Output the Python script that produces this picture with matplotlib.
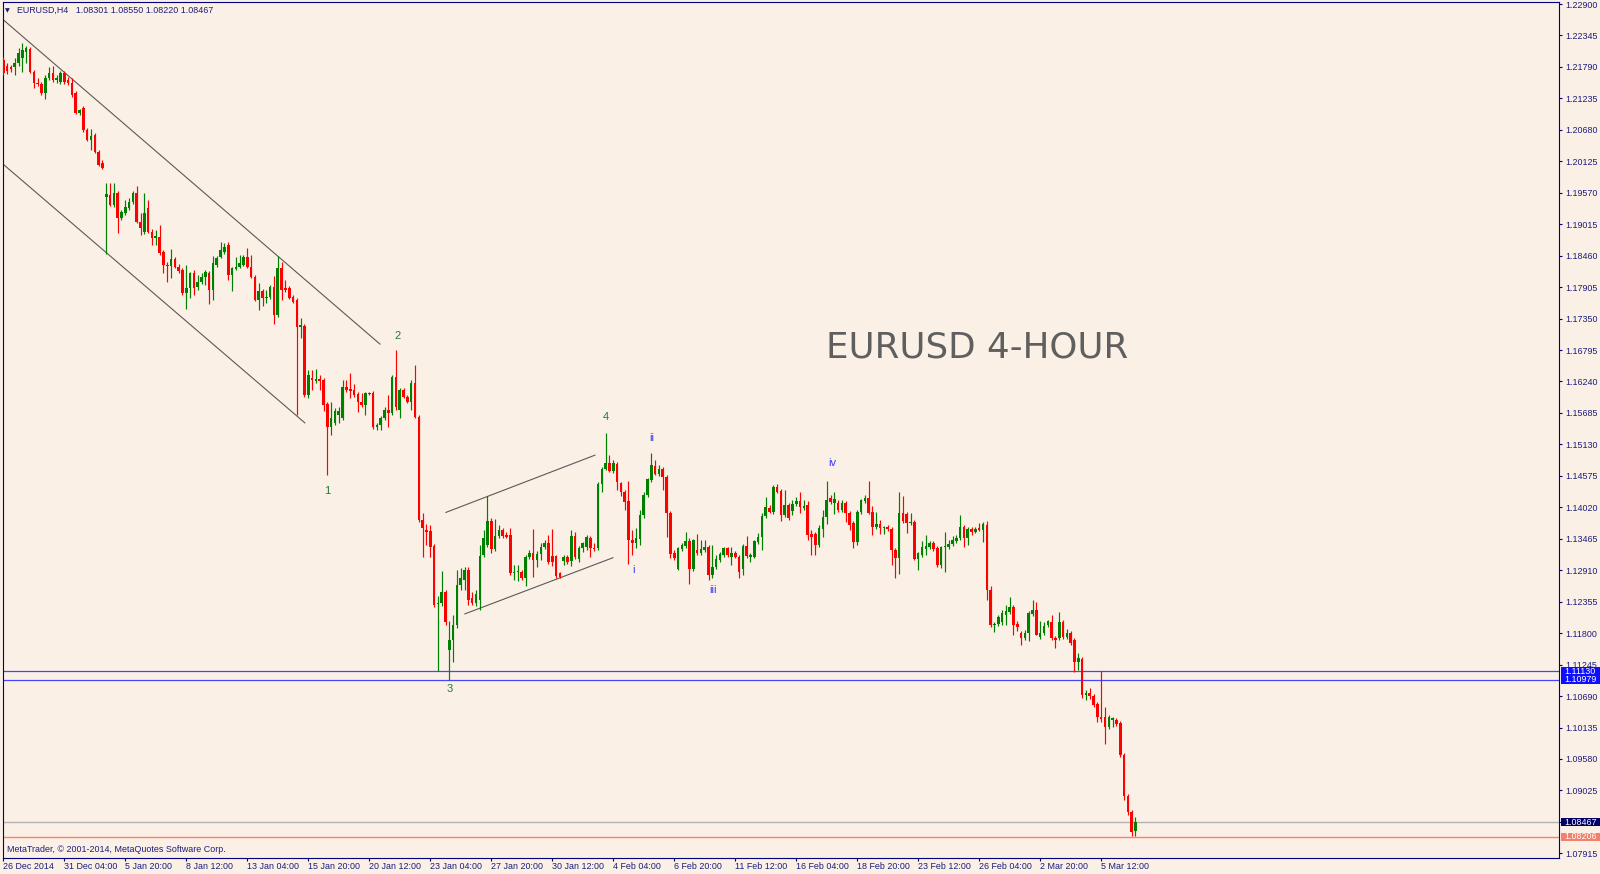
import matplotlib
matplotlib.use("Agg")
import matplotlib.pyplot as plt
from matplotlib import transforms
from matplotlib.patches import Rectangle

plt.rcParams['font.family'] = ['Liberation Sans', 'DejaVu Sans']

# ---------------- data (EURUSD H4 candles) ----------------
opens = [
 1.2191,1.2181,1.2179,1.2179,1.2186,1.2195,1.2205,1.2211,1.2170,1.2151,
 1.2149,1.2133,1.2160,1.2168,1.2156,1.2152,1.2168,1.2156,1.2151,1.2133,
 1.2098,1.2107,1.2068,1.2050,1.2059,1.2029,1.2010,1.1950,1.1953,1.1935,
 1.1957,1.1913,1.1921,1.1930,1.1941,1.1957,1.1905,1.1888,1.1930,1.1888,
 1.1877,1.1879,1.1852,1.1830,1.1828,1.1840,1.1826,1.1821,1.1780,1.1789,
 1.1815,1.1791,1.1800,1.1808,1.1815,1.1785,1.1830,1.1844,1.1852,1.1865,
 1.1812,1.1822,1.1826,1.1830,1.1844,1.1826,1.1808,1.1768,1.1784,1.1771,
 1.1773,1.1791,1.1741,1.1824,1.1789,1.1789,1.1773,1.1768,1.1720,1.1722,
 1.1600,1.1630,1.1625,1.1628,1.1627,1.1584,1.1544,1.1551,1.1565,1.1560,
 1.1614,1.1611,1.1609,1.1602,1.1588,1.1583,1.1604,1.1604,1.1544,1.1547,
 1.1560,1.1574,1.1568,1.1632,1.1574,1.1609,1.1597,1.1588,1.1621,1.1561,
 1.1380,1.1362,1.1360,1.1334,1.1231,1.1233,1.1253,1.1150,1.1168,1.1194,
 1.1265,1.1274,1.1291,1.1242,1.1233,1.1239,1.1318,1.1336,1.1378,1.1328,
 1.1351,1.1362,1.1353,1.1353,1.1286,1.1288,1.1288,1.1277,1.1314,1.1321,
 1.1309,1.1320,1.1332,1.1339,1.1316,1.1316,1.1286,1.1307,1.1314,1.1307,
 1.1351,1.1311,1.1330,1.1332,1.1348,1.1330,1.1330,1.1443,1.1470,1.1480,
 1.1466,1.1478,1.1445,1.1429,1.1413,1.1344,1.1339,1.1346,1.1388,1.1424,
 1.1450,1.1475,1.1461,1.1470,1.1456,1.1392,1.1321,1.1293,1.1328,1.1334,
 1.1343,1.1293,1.1327,1.1321,1.1327,1.1332,1.1283,1.1297,1.1309,1.1318,
 1.1330,1.1314,1.1321,1.1314,1.1293,1.1334,1.1314,1.1314,1.1341,1.1350,
 1.1387,1.1401,1.1394,1.1438,1.1431,1.1388,1.1406,1.1396,1.1408,1.1413,
 1.1401,1.1406,1.1355,1.1355,1.1336,1.1364,1.1385,1.1419,1.1410,1.1410,
 1.1397,1.1410,1.1392,1.1374,1.1341,1.1394,1.1413,1.1419,1.1394,1.1367,
 1.1373,1.1366,1.1367,1.1364,1.1327,1.1313,1.1392,1.1390,1.1374,1.1376,
 1.1311,1.1318,1.1328,1.1332,1.1339,1.1330,1.1300,1.1332,1.1332,1.1337,
 1.1343,1.1348,1.1367,1.1348,1.1364,1.1359,1.1366,1.1362,1.1371,1.1256,
 1.1194,1.1196,1.1200,1.1212,1.1217,1.1226,1.1196,1.1180,1.1171,1.1180,
 1.1214,1.1221,1.1173,1.1180,1.1194,1.1200,1.1171,1.1171,1.1200,1.1173,
 1.1180,1.1168,1.1129,1.1134,1.1071,1.1074,1.1069,1.1055,1.1032,1.1032,
 1.1014,1.1027,1.1027,1.1021,1.0965,1.0893,1.0865,1.08301]
highs = [
 1.2196,1.2186,1.2182,1.2195,1.2212,1.2221,1.2216,1.2214,1.2174,1.2160,
 1.2152,1.2165,1.2179,1.2181,1.2165,1.2172,1.2172,1.2161,1.2160,1.2137,
 1.2105,1.2110,1.2071,1.2070,1.2062,1.2032,1.2015,1.1974,1.1974,1.1974,
 1.1960,1.1927,1.1944,1.1948,1.1960,1.1969,1.1921,1.1957,1.1944,1.1893,
 1.1891,1.1900,1.1856,1.1835,1.1858,1.1844,1.1831,1.1824,1.1830,1.1817,
 1.1821,1.1812,1.1815,1.1821,1.1819,1.1845,1.1845,1.1870,1.1868,1.1870,
 1.1826,1.1844,1.1847,1.1847,1.1860,1.1847,1.1812,1.1798,1.1787,1.1785,
 1.1794,1.1810,1.1845,1.1835,1.1803,1.1793,1.1777,1.1771,1.1736,1.1725,
 1.1644,1.1644,1.1646,1.1635,1.1630,1.1588,1.1588,1.1577,1.1579,1.1627,
 1.1627,1.1639,1.1620,1.1605,1.1604,1.1606,1.1605,1.1607,1.1551,1.1563,
 1.1579,1.1600,1.1635,1.1680,1.1613,1.1613,1.1600,1.1627,1.1653,1.1565,
 1.1392,1.1373,1.1371,1.1337,1.1246,1.1290,1.1256,1.1201,1.1212,1.1291,
 1.1295,1.1297,1.1297,1.1253,1.1256,1.1336,1.1362,1.1422,1.1383,1.1381,
 1.1371,1.1366,1.1359,1.1366,1.1300,1.1300,1.1291,1.1318,1.1327,1.1364,
 1.1325,1.1339,1.1344,1.1353,1.1364,1.1318,1.1288,1.1318,1.1318,1.1362,
 1.1359,1.1333,1.1341,1.1353,1.1351,1.1339,1.1447,1.1473,1.1533,1.1494,
 1.1486,1.1482,1.1447,1.1433,1.1448,1.1362,1.1366,1.1397,1.1429,1.1454,
 1.1498,1.1486,1.1477,1.1473,1.1459,1.1396,1.1327,1.1332,1.1339,1.1359,
 1.1348,1.1346,1.1355,1.1344,1.1344,1.1336,1.1336,1.1318,1.1323,1.1332,
 1.1332,1.1332,1.1325,1.1318,1.1337,1.1351,1.1321,1.1344,1.1357,1.1392,
 1.1420,1.1406,1.1441,1.1443,1.1434,1.1433,1.1410,1.1415,1.1420,1.1429,
 1.1415,1.1413,1.1362,1.1359,1.1371,1.1397,1.1448,1.1424,1.1429,1.1415,
 1.1415,1.1413,1.1396,1.1378,1.1397,1.1417,1.1424,1.1448,1.1404,1.1394,
 1.1380,1.1369,1.1371,1.1367,1.1330,1.1429,1.1422,1.1394,1.1392,1.1380,
 1.1323,1.1343,1.1353,1.1343,1.1343,1.1334,1.1334,1.1359,1.1344,1.1351,
 1.1353,1.1388,1.1371,1.1367,1.1367,1.1367,1.1374,1.1376,1.1378,1.1263,
 1.1200,1.1212,1.1221,1.1230,1.1244,1.1230,1.1201,1.1184,1.1186,1.1219,
 1.1239,1.1235,1.1201,1.1200,1.1203,1.1212,1.1175,1.1217,1.1203,1.1187,
 1.1184,1.1171,1.1145,1.1138,1.1080,1.1083,1.1073,1.1058,1.1113,1.1050,
 1.1036,1.1032,1.1030,1.1025,1.0968,1.0896,1.0868,1.08550]
lows = [
 1.2165,1.2167,1.2170,1.2165,1.2181,1.2170,1.2186,1.2168,1.2142,1.2145,
 1.2130,1.2122,1.2156,1.2152,1.2151,1.2149,1.2149,1.2147,1.2126,1.2096,
 1.2094,1.2064,1.2048,1.2032,1.2027,1.2004,1.1999,1.1849,1.1934,1.1932,
 1.1886,1.1909,1.1918,1.1927,1.1937,1.1904,1.1883,1.1884,1.1886,1.1865,
 1.1865,1.1847,1.1815,1.1800,1.1807,1.1824,1.1815,1.1777,1.1752,1.1771,
 1.1777,1.1785,1.1796,1.1794,1.1761,1.1768,1.1826,1.1842,1.1849,1.1803,
 1.1784,1.1821,1.1824,1.1828,1.1824,1.1807,1.1766,1.1750,1.1757,1.1763,
 1.1770,1.1725,1.1738,1.1768,1.1782,1.1770,1.1763,1.1565,1.1701,1.1597,
 1.1595,1.1609,1.1621,1.1609,1.1572,1.1459,1.1530,1.1547,1.1551,1.1556,
 1.1605,1.1595,1.1597,1.1570,1.1579,1.1565,1.1600,1.1540,1.1538,1.1538,
 1.1556,1.1544,1.1565,1.1574,1.1560,1.1595,1.1586,1.1574,1.1560,1.1376,
 1.1314,1.1336,1.1314,1.1226,1.1113,1.1228,1.1194,1.1098,1.1129,1.1189,
 1.1256,1.1256,1.1230,1.1230,1.1228,1.1221,1.1314,1.1332,1.1321,1.1325,
 1.1348,1.1348,1.1348,1.1283,1.1274,1.1272,1.1274,1.1263,1.1311,1.1279,
 1.1297,1.1309,1.1328,1.1302,1.1298,1.1277,1.1277,1.1300,1.1302,1.1299,
 1.1311,1.1306,1.1323,1.1327,1.1314,1.1325,1.1327,1.1429,1.1468,1.1464,
 1.1463,1.1433,1.1422,1.1397,1.1302,1.1318,1.1330,1.1336,1.1383,1.1420,
 1.1447,1.1459,1.1457,1.1433,1.1350,1.1313,1.1309,1.1291,1.1325,1.1330,
 1.1267,1.1290,1.1318,1.1318,1.1323,1.1274,1.1277,1.1293,1.1306,1.1314,
 1.1314,1.1300,1.1313,1.1277,1.1283,1.1313,1.1306,1.1313,1.1337,1.1327,
 1.1383,1.1392,1.1390,1.1427,1.1378,1.1385,1.1380,1.1388,1.1404,1.1392,
 1.1397,1.1344,1.1318,1.1318,1.1332,1.1350,1.1373,1.1408,1.1390,1.1394,
 1.1394,1.1376,1.1362,1.1330,1.1336,1.1390,1.1410,1.1390,1.1353,1.1364,
 1.1355,1.1355,1.1360,1.1300,1.1277,1.1284,1.1374,1.1357,1.1371,1.1309,
 1.1291,1.1314,1.1318,1.1328,1.1325,1.1297,1.1295,1.1288,1.1328,1.1334,
 1.1339,1.1344,1.1332,1.1336,1.1353,1.1357,1.1360,1.1341,1.1239,1.1190,
 1.1182,1.1193,1.1194,1.1194,1.1214,1.1176,1.1184,1.1159,1.1168,1.1166,
 1.1210,1.1176,1.1170,1.1177,1.1190,1.1168,1.1154,1.1168,1.1170,1.1170,
 1.1159,1.1112,1.1115,1.1066,1.1062,1.1064,1.1050,1.1023,1.1023,1.0984,
 1.1011,1.1014,1.1016,1.0961,1.0886,1.0859,1.0822,1.08220]
closes = [
 1.2168,1.2172,1.2175,1.2186,1.2204,1.2209,1.2212,1.2170,1.2151,1.2149,
 1.2133,1.2160,1.2168,1.2156,1.2160,1.2168,1.2152,1.2151,1.2130,1.2098,
 1.2103,1.2068,1.2050,1.2057,1.2029,1.2006,1.2001,1.1955,1.1935,1.1957,
 1.1913,1.1923,1.1932,1.1941,1.1957,1.1905,1.1895,1.1921,1.1888,1.1877,
 1.1881,1.1851,1.1830,1.1828,1.1840,1.1826,1.1819,1.1780,1.1789,1.1815,
 1.1789,1.1800,1.1808,1.1817,1.1785,1.1833,1.1842,1.1856,1.1861,1.1812,
 1.1824,1.1826,1.1833,1.1844,1.1826,1.1808,1.1768,1.1784,1.1771,1.1773,
 1.1791,1.1741,1.1824,1.1785,1.1785,1.1771,1.1764,1.1720,1.1724,1.1600,
 1.1635,1.1627,1.1628,1.1625,1.1583,1.1544,1.1560,1.1572,1.1572,1.1614,
 1.1609,1.1607,1.1600,1.1588,1.1583,1.1604,1.1602,1.1544,1.1547,1.1560,
 1.1574,1.1568,1.1632,1.1579,1.1609,1.1597,1.1588,1.1621,1.1561,1.1380,
 1.1366,1.1359,1.1332,1.1230,1.1233,1.1253,1.1200,1.1168,1.1194,1.1265,
 1.1277,1.1291,1.1239,1.1233,1.1249,1.1316,1.1348,1.1378,1.1328,1.1351,
 1.1362,1.1351,1.1350,1.1286,1.1288,1.1290,1.1277,1.1314,1.1321,1.1309,
 1.1320,1.1332,1.1339,1.1306,1.1306,1.1281,1.1279,1.1314,1.1305,1.1351,
 1.1314,1.1330,1.1339,1.1350,1.1330,1.1328,1.1443,1.1470,1.1480,1.1466,
 1.1480,1.1447,1.1429,1.1411,1.1344,1.1339,1.1348,1.1388,1.1424,1.1452,
 1.1477,1.1461,1.1470,1.1456,1.1392,1.1320,1.1313,1.1330,1.1336,1.1343,
 1.1293,1.1344,1.1321,1.1328,1.1332,1.1283,1.1297,1.1311,1.1320,1.1330,
 1.1318,1.1321,1.1314,1.1288,1.1334,1.1316,1.1318,1.1343,1.1350,1.1387,
 1.1403,1.1394,1.1438,1.1429,1.1388,1.1406,1.1383,1.1408,1.1413,1.1403,
 1.1404,1.1353,1.1350,1.1336,1.1366,1.1385,1.1415,1.1411,1.1417,1.1397,
 1.1410,1.1392,1.1371,1.1341,1.1394,1.1415,1.1419,1.1392,1.1367,1.1373,
 1.1366,1.1367,1.1364,1.1327,1.1313,1.1392,1.1378,1.1374,1.1376,1.1311,
 1.1321,1.1332,1.1334,1.1339,1.1328,1.1300,1.1332,1.1334,1.1337,1.1344,
 1.1348,1.1367,1.1348,1.1364,1.1359,1.1364,1.1362,1.1373,1.1256,1.1194,
 1.1196,1.1209,1.1216,1.1219,1.1226,1.1194,1.1190,1.1171,1.1180,1.1216,
 1.1221,1.1177,1.1180,1.1193,1.1201,1.1171,1.1168,1.1200,1.1173,1.1180,
 1.1163,1.1129,1.1136,1.1071,1.1074,1.1069,1.1053,1.1032,1.1029,1.1014,
 1.1032,1.1030,1.1020,1.0965,1.0893,1.0865,1.0830,1.08467]

date_labels = ["26 Dec 2014", "31 Dec 04:00", "5 Jan 20:00", "8 Jan 12:00",
               "13 Jan 04:00", "15 Jan 20:00", "20 Jan 12:00", "23 Jan 04:00",
               "27 Jan 20:00", "30 Jan 12:00", "4 Feb 04:00", "6 Feb 20:00",
               "11 Feb 12:00", "16 Feb 04:00", "18 Feb 20:00", "23 Feb 12:00",
               "26 Feb 04:00", "2 Mar 20:00", "5 Mar 12:00"]
bars_per_label = 16

price_ticks = [1.22900, 1.22345, 1.21790, 1.21235, 1.20680, 1.20125, 1.19570,
               1.19015, 1.18460, 1.17905, 1.17350, 1.16795, 1.16240, 1.15685,
               1.15130, 1.14575, 1.14020, 1.13465, 1.12910, 1.12355, 1.11800,
               1.11245, 1.10690, 1.10135, 1.09580, 1.09025, 1.08470, 1.07915]
price_tick_labels = ["1.22900", "1.22345", "1.21790", "1.21235", "1.20680",
                     "1.20125", "1.19570", "1.19015", "1.18460", "1.17905",
                     "1.17350", "1.16795", "1.16240", "1.15685", "1.15130",
                     "1.14575", "1.14020", "1.13465", "1.12910", "1.12355",
                     "1.11800", "1.11245", "1.10690", "1.10135", "1.09580",
                     "1.09025", "1.08467", "1.07915"]

hline_levels = [1.11130, 1.10979]
bid_level = 1.08467
red_level = 1.08206

# trend channel anchors (bar index, price)
chan_a_x, chan_a_p = [-0.16, 98.8], [1.2263, 1.1690]
chan_b_x, chan_b_p = [-0.16, 79.1], [1.2008, 1.1551]
chan_c_x, chan_c_p = [116.1, 155.2], [1.1393, 1.1494]
chan_d_x, chan_d_p = [121.1, 159.9], [1.1214, 1.1313]

wave_labels = ["1", "2", "3", "4"]
wave_x = [84.9, 103.3, 117.2, 158.1]
wave_p = [1.1431, 1.1704, 1.1082, 1.1561]
sub_labels = ["i", "ii", "iii", "iv"]
sub_x = [165.2, 170.2, 186.2, 217.4]
sub_p = [1.1292, 1.1524, 1.1256, 1.1480]

header_values = "1.08301 1.08550 1.08220 1.08467"

# ---------------- styling ----------------
BG = "#FAF0E6"
NAVY = "#000080"
TXT = "#1c1c7c"
BULL = "#008000"
BEAR = "#FF0000"
W, H = 1600, 874

fig = plt.figure(figsize=(W / 100, H / 100), dpi=100, facecolor=BG)
ax_l, ax_r, ax_t, ax_b = 2.7, 1559.0, 2.3, 857.7
ax = fig.add_axes([ax_l / W, (H - ax_b) / H, (ax_r - ax_l) / W, (ax_b - ax_t) / H])
ax.set_facecolor(BG)

n = len(opens)
xs = list(range(n))
cols = [BULL if c >= o else BEAR for o, c in zip(opens, closes)]
ax.vlines(xs, lows, highs, colors=cols, linewidth=0.85, zorder=3)
bottoms = [min(o, c) for o, c in zip(opens, closes)]
heights = [max(abs(c - o), 0.00012) for o, c in zip(opens, closes)]
ax.bar(xs, heights, bottom=bottoms, width=0.68, color=cols, linewidth=0, zorder=4)

# channels
for cx, cp in [(chan_a_x, chan_a_p), (chan_b_x, chan_b_p), (chan_c_x, chan_c_p), (chan_d_x, chan_d_p)]:
    ax.plot(cx, cp, color="#5a5a5a", linewidth=0.8, zorder=2)

# horizontal lines
for lv in hline_levels:
    ax.axhline(lv, color="#4646ff", linewidth=0.9, zorder=2)
ax.axhline(bid_level, color="#b4b4b4", linewidth=1.0, zorder=2)
ax.axhline(red_level, color="#fa8072", linewidth=1.0, zorder=2)

# wave labels
for t, xx, pp in zip(wave_labels, wave_x, wave_p):
    ax.text(xx, pp, t, color="#1f7a3a", fontsize=8, ha="center", va="center", zorder=6)
for t, xx, pp in zip(sub_labels, sub_x, sub_p):
    ax.text(xx, pp, t, color="#3a3aff", fontsize=8, ha="center", va="center", zorder=6)

# limits
ax.set_xlim(-0.16, 408.1)
ax.set_ylim(1.07838, 1.22930)

# axes styling
for s in ax.spines.values():
    s.set_color(NAVY)
    s.set_linewidth(0.8)
ax.yaxis.tick_right()
ax.set_yticks(price_ticks)
ax.set_yticklabels(price_tick_labels)
ax.tick_params(axis="y", direction="out", length=2.5, width=0.8, color=NAVY,
               labelcolor=TXT, labelsize=6.4, pad=2)
ax.set_xticks([bars_per_label * k for k in range(len(date_labels))])
ax.set_xticklabels(date_labels)
ax.tick_params(axis="x", direction="out", length=2.5, width=0.8, color=NAVY,
               labelcolor=TXT, labelsize=6.4, pad=0.5)
for lab in ax.get_xticklabels():
    lab.set_ha("left")

# right-side price boxes
trans = transforms.blended_transform_factory(fig.transFigure, ax.transData)
box_h = 8.5 / 5668.0
def price_box(level, face, text):
    r = Rectangle((1560.7 / W, level - box_h / 2), 39.3 / W, box_h, transform=trans,
                  facecolor=face, edgecolor="none", zorder=10)
    fig.add_artist(r)
    fig.text(1564.5 / W, level, text, transform=trans, color="white", fontsize=6.4,
             ha="left", va="center", zorder=11)

price_box(hline_levels[0], "#0f0fff", "%.5f" % hline_levels[0])
price_box(hline_levels[1], "#0f0fff", "%.5f" % hline_levels[1])
price_box(bid_level, "#000066", "%.5f" % bid_level)
price_box(red_level, "#f4806c", "%.5f" % red_level)

# header, watermark, copyright
fig.text(5.0 / W, 1 - 10.5 / H, "\u25BC", fontsize=4.5, color=TXT, family="DejaVu Sans",
         ha="left", va="center")
fig.text(17.0 / W, 1 - 10.0 / H, symbol if False else "EURUSD,H4   " + header_values,
         fontsize=6.4, color=TXT, ha="left", va="center")
fig.text(826.0 / W, 1 - 358.0 / H, "EURUSD 4-HOUR", fontsize=25.7, family="DejaVu Sans",
         color="#5f5f5f", ha="left", va="baseline")
fig.text(7.0 / W, 1 - 849.5 / H, "MetaTrader, \u00A9 2001-2014, MetaQuotes Software Corp.",
         fontsize=6.4, color=TXT, ha="left", va="center")

fig.savefig("out.png", dpi=100, facecolor=BG)
